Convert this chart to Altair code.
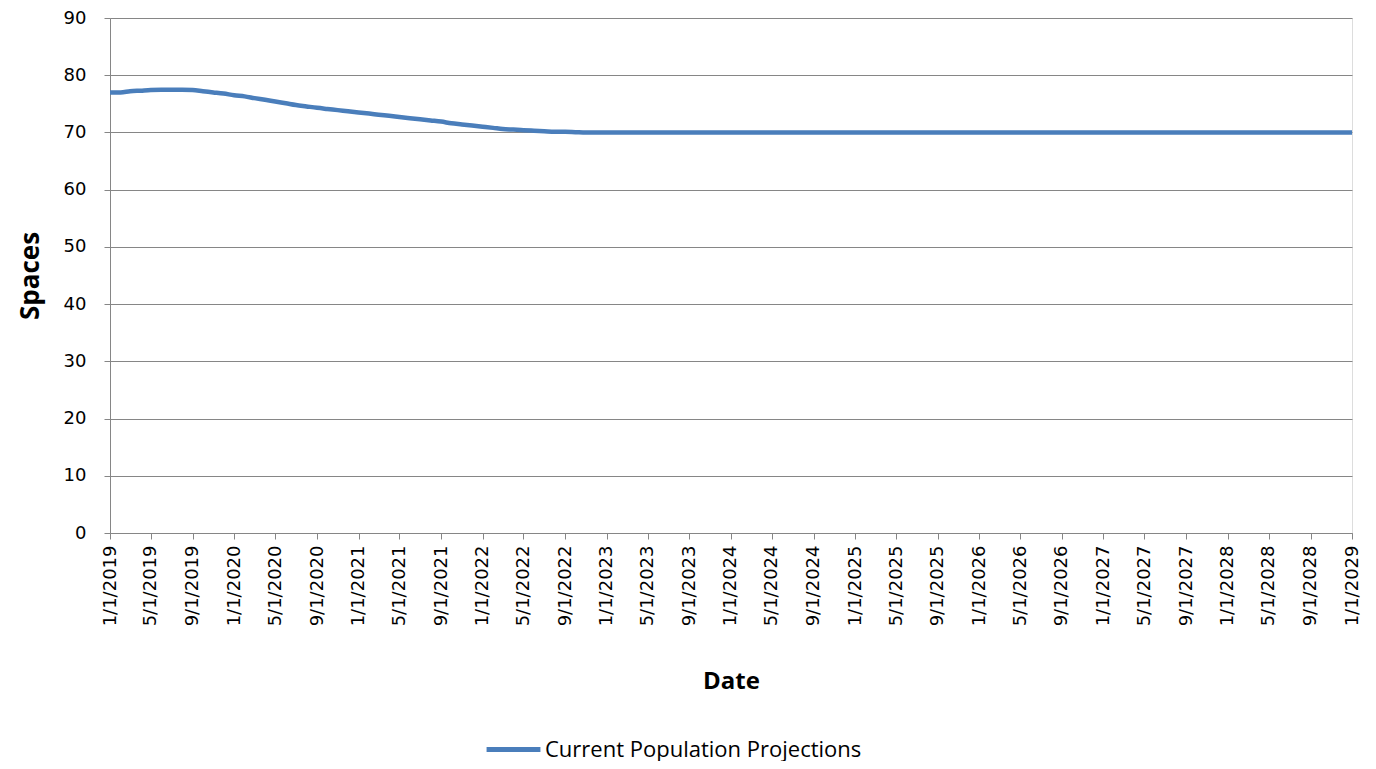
import altair as alt
import pandas as pd

series_name = "Current Population Projections"
start_month = "2019-01-01"
# Monthly projected spaces, Jan 2019 .. Jan 2029
spaces = [
    77.0, 77.0, 77.2, 77.3, 77.4, 77.45, 77.45, 77.45, 77.4, 77.2, 77.0, 76.8,  # 2019
    76.5, 76.3, 76.0, 75.7, 75.4, 75.1, 74.8, 74.55, 74.3, 74.1, 73.9, 73.7,    # 2020
    73.5, 73.3, 73.1, 72.9, 72.7, 72.5, 72.3, 72.1, 71.9, 71.6, 71.4, 71.2,     # 2021
    71.0, 70.8, 70.6, 70.5, 70.4, 70.3, 70.2, 70.1, 70.1, 70.05, 70.0, 70.0,    # 2022
    70, 70, 70, 70, 70, 70, 70, 70, 70, 70, 70, 70,                             # 2023
    70, 70, 70, 70, 70, 70, 70, 70, 70, 70, 70, 70,                             # 2024
    70, 70, 70, 70, 70, 70, 70, 70, 70, 70, 70, 70,                             # 2025
    70, 70, 70, 70, 70, 70, 70, 70, 70, 70, 70, 70,                             # 2026
    70, 70, 70, 70, 70, 70, 70, 70, 70, 70, 70, 70,                             # 2027
    70, 70, 70, 70, 70, 70, 70, 70, 70, 70, 70, 70,                             # 2028
    70,                                                                         # Jan 2029
]
dates = pd.date_range(start_month, periods=len(spaces), freq="MS")
tick_dates = [d for d in dates][::4]

df = pd.DataFrame({"Date": dates, "Spaces": spaces, "Series": series_name})

x = alt.X(
    "Date:T",
    title="Date",
    scale=alt.Scale(domain=[dates[0].isoformat(), dates[-1].isoformat()], nice=False),
    axis=alt.Axis(
        values=[d.isoformat() for d in tick_dates],
        format="%-m/%-d/%Y",
        labelAngle=270,
        labelAlign="right",
        labelBaseline="middle",
        labelFont="DejaVu Sans",
        labelFontSize=18,
        labelColor="#000000",
        labelPadding=6,
        labelOverlap=False,
        labelBound=False,
        labelFlush=False,
        tickSize=6,
        tickColor="#868686",
        domainColor="#868686",
        grid=False,
        titleFont="Open Sans",
        titleFontSize=24,
        titleFontWeight="bold",
        titleColor="#000000",
        titlePadding=44,
    ),
)
y = alt.Y(
    "Spaces:Q",
    title="Spaces",
    scale=alt.Scale(domain=[0, 90], nice=False),
    axis=alt.Axis(
        values=list(range(0, 91, 10)),
        labelFont="DejaVu Sans",
        labelFontSize=18,
        labelColor="#000000",
        labelPadding=18,
        tickSize=6,
        tickColor="#868686",
        domainColor="#868686",
        gridColor="#868686",
        gridWidth=1,
        titleFont="Open Sans",
        titleFontSize=26,
        titleFontWeight="bold",
        titleColor="#000000",
        titlePadding=20,
    ),
)

chart = (
    alt.Chart(df)
    .mark_line(strokeWidth=4.5, interpolate="monotone")
    .encode(
        x=x,
        y=y,
        color=alt.Color(
            "Series:N",
            scale=alt.Scale(range=["#4a7ebb"]),
            legend=alt.Legend(
                title=None,
                orient="none",
                legendX=374,
                legendY=702,
                symbolType="stroke",
                symbolSize=2900,
                symbolStrokeWidth=5,
                labelFont="Open Sans",
                labelFontSize=22,
                labelColor="#000000",
                labelOffset=2,
                labelLimit=0,
            ),
        ),
    )
    .properties(
        width=1242,
        height=515,
        padding={"left": 102, "top": 10, "right": 16, "bottom": 228},
        autosize=alt.AutoSizeParams(type="none"),
    )
    .configure_view(stroke=None)
    .configure(background="white")
)

chart.save("out.html", embed_options={"renderer": "svg", "actions": False})
